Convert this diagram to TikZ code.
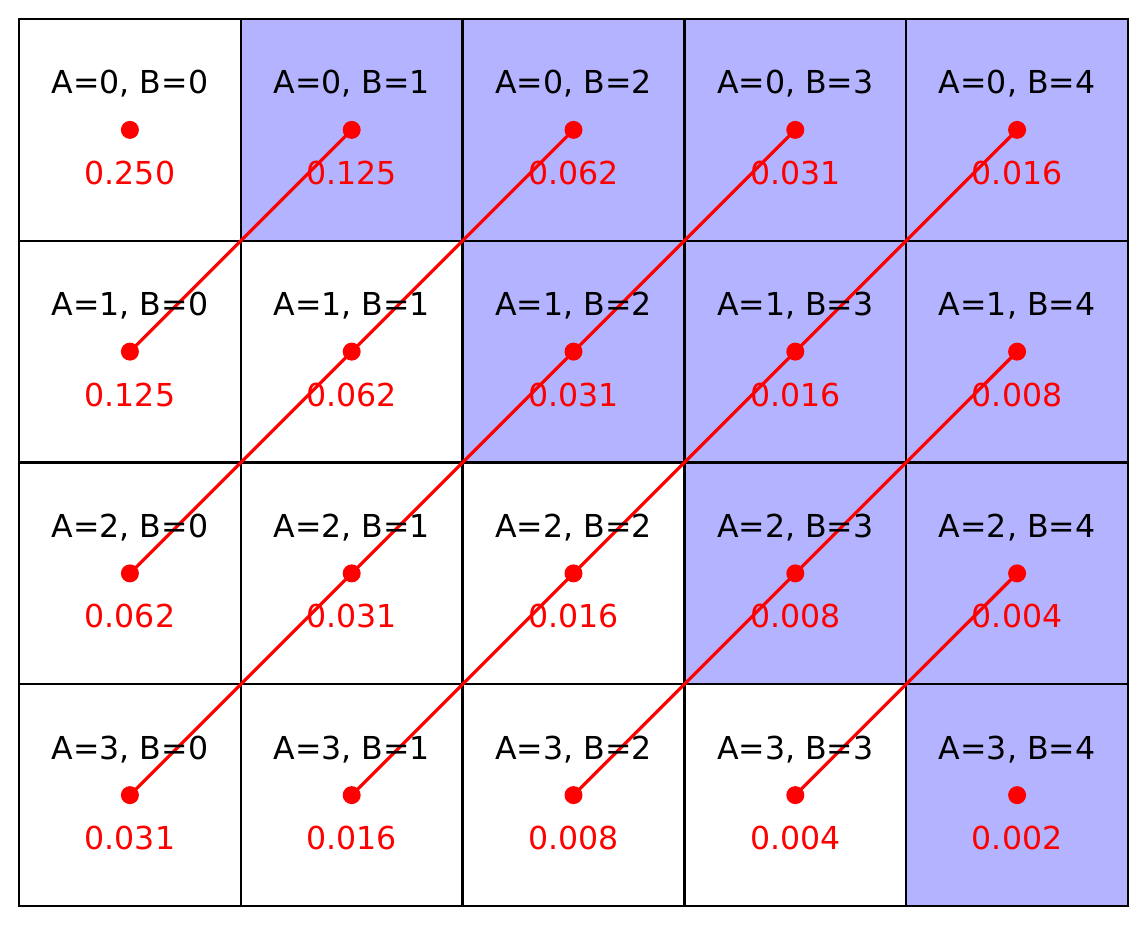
\documentclass[tikz,border=0pt]{standalone}
\usepackage{fontspec}
\setmainfont{DejaVu Sans}
\definecolor{cellblue}{RGB}{179,179,255}
\begin{document}
\begin{tikzpicture}[x=1pt,y=-1pt,
  cell/.style={minimum width=221.8pt,minimum height=221.75pt,inner sep=0pt,outer sep=0pt},
  edge/.style={draw=black,line width=2.4pt},
  lab/.style={font=\fontsize{31.6}{38}\selectfont,text=black,inner sep=0pt},
  val/.style={font=\fontsize{31.6}{38}\selectfont,text=red,inner sep=0pt},
  dotn/.style={circle,fill=red,minimum size=18pt,inner sep=0pt},
  diag/.style={red,line width=3.2pt}]
\useasboundingbox (0,0) rectangle (1147,925);
\foreach \a in {0,...,3}{
  \foreach \b in {0,...,4}{
    \pgfmathsetmacro{\cx}{19+221.8*\b+110.9}
    \pgfmathsetmacro{\cy}{19+221.75*\a+110.875}
    \coordinate (p\a\b) at (\cx,\cy);
    \ifnum\b>\a
      \node[cell,fill=cellblue] (c\a\b) at (p\a\b) {};
    \else
      \node[cell,fill=white] (c\a\b) at (p\a\b) {};
    \fi
  }
}
\foreach \a in {0,...,3}{
  \foreach \b in {0,...,4}{
    \draw[edge] (c\a\b.north west) rectangle (c\a\b.south east);
  }
}
% diagonals
\draw[diag] (p01) -- (p10);
\draw[diag] (p02) -- (p20);
\draw[diag] (p03) -- (p30);
\draw[diag] (p04) -- (p31);
\draw[diag] (p14) -- (p32);
\draw[diag] (p24) -- (p33);
\foreach \a/\b/\v in {0/0/0.250,0/1/0.125,0/2/0.062,0/3/0.031,0/4/0.016,
  1/0/0.125,1/1/0.062,1/2/0.031,1/3/0.016,1/4/0.008,
  2/0/0.062,2/1/0.031,2/2/0.016,2/3/0.008,2/4/0.004,
  3/0/0.031,3/1/0.016,3/2/0.008,3/3/0.004,3/4/0.002}{
  \node[dotn] (d\a\b) at (p\a\b) {};
  \node[lab] (l\a\b) at ([yshift=46pt]p\a\b) {A=\a, B=\b};
  \node[val] (v\a\b) at ([yshift=-43pt]p\a\b) {\v};
}
\end{tikzpicture}
\end{document}
